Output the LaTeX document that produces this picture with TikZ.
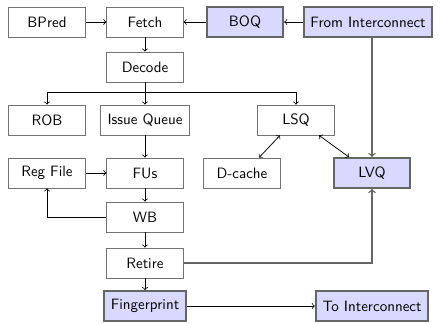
\documentclass[tikz,border=0pt]{standalone}
\begin{document}
\begin{tikzpicture}[x=0.6667pt,y=-0.6667pt,
  font=\sffamily,
  box/.style={draw=black!55, fill=white, minimum width=51pt, minimum height=20pt, inner xsep=4.5pt, line width=0.5pt},
  hbox/.style={draw=black!60, fill=blue!15, minimum width=51pt, minimum height=20pt, inner xsep=4.5pt, line width=1.2pt},
  arr/.style={->, line width=0.5pt},
  darr/.style={<->, line width=0.5pt},
  garr/.style={->, draw=black!60, line width=0.9pt}]
\useasboundingbox (0,0) rectangle (440,324);
\node[box]  (bp)  at (47,22)  {BPred};
\node[box]  (fe)  at (145,22) {Fetch};
\node[hbox] (boq) at (245,22) {BOQ};
\node[hbox] (fi)  at (368,22) {From Interconnect};
\node[box]  (de)  at (145,67) {Decode};
\node[box]  (rob) at (47,120) {ROB};
\node[box]  (iq)  at (145,120) {Issue Queue};
\node[box]  (lsq) at (296,120) {LSQ};
\node[box]  (rf)  at (47,173) {Reg File};
\node[box]  (fu)  at (145,173) {FUs};
\node[box]  (dc)  at (242,173) {D-cache};
\node[hbox] (lvq) at (372,173) {LVQ};
\node[box]  (wb)  at (145,217) {WB};
\node[box]  (ret) at (145,263) {Retire};
\node[hbox] (fp)  at (145,306) {Fingerprint};
\node[hbox] (ti)  at (372,306) {To Interconnect};
\coordinate (br) at (145,92);
\draw[arr] (bp) -- (fe);
\draw[arr] (boq) -- (fe);
\draw[arr] (fi) -- (boq);
\draw[arr] (fe) -- (de);
\draw[line width=0.5pt] (de) -- (br);
\draw[arr] (br) -| (rob);
\draw[arr] (br) -- (iq);
\draw[arr] (br) -| (lsq);
\draw[arr] (iq) -- (fu);
\draw[arr] (rf) -- (fu);
\draw[arr] (fu) -- (wb);
\draw[arr] (wb.west) -| (rf.south);
\draw[arr] (wb) -- (ret);
\draw[arr] (ret) -- (fp);
\draw[arr] (fp) -- (ti);
\draw[darr] ([xshift=-16*0.6667pt]lsq.south) -- ([xshift=17*0.6667pt]dc.north);
\draw[darr] ([xshift=23*0.6667pt]lsq.south) -- ([xshift=-23*0.6667pt]lvq.north);
\draw[garr] (lvq.north |- fi.south) -- (lvq.north);
\draw[garr] (ret.east) -| (lvq.south);
\end{tikzpicture}
\end{document}
